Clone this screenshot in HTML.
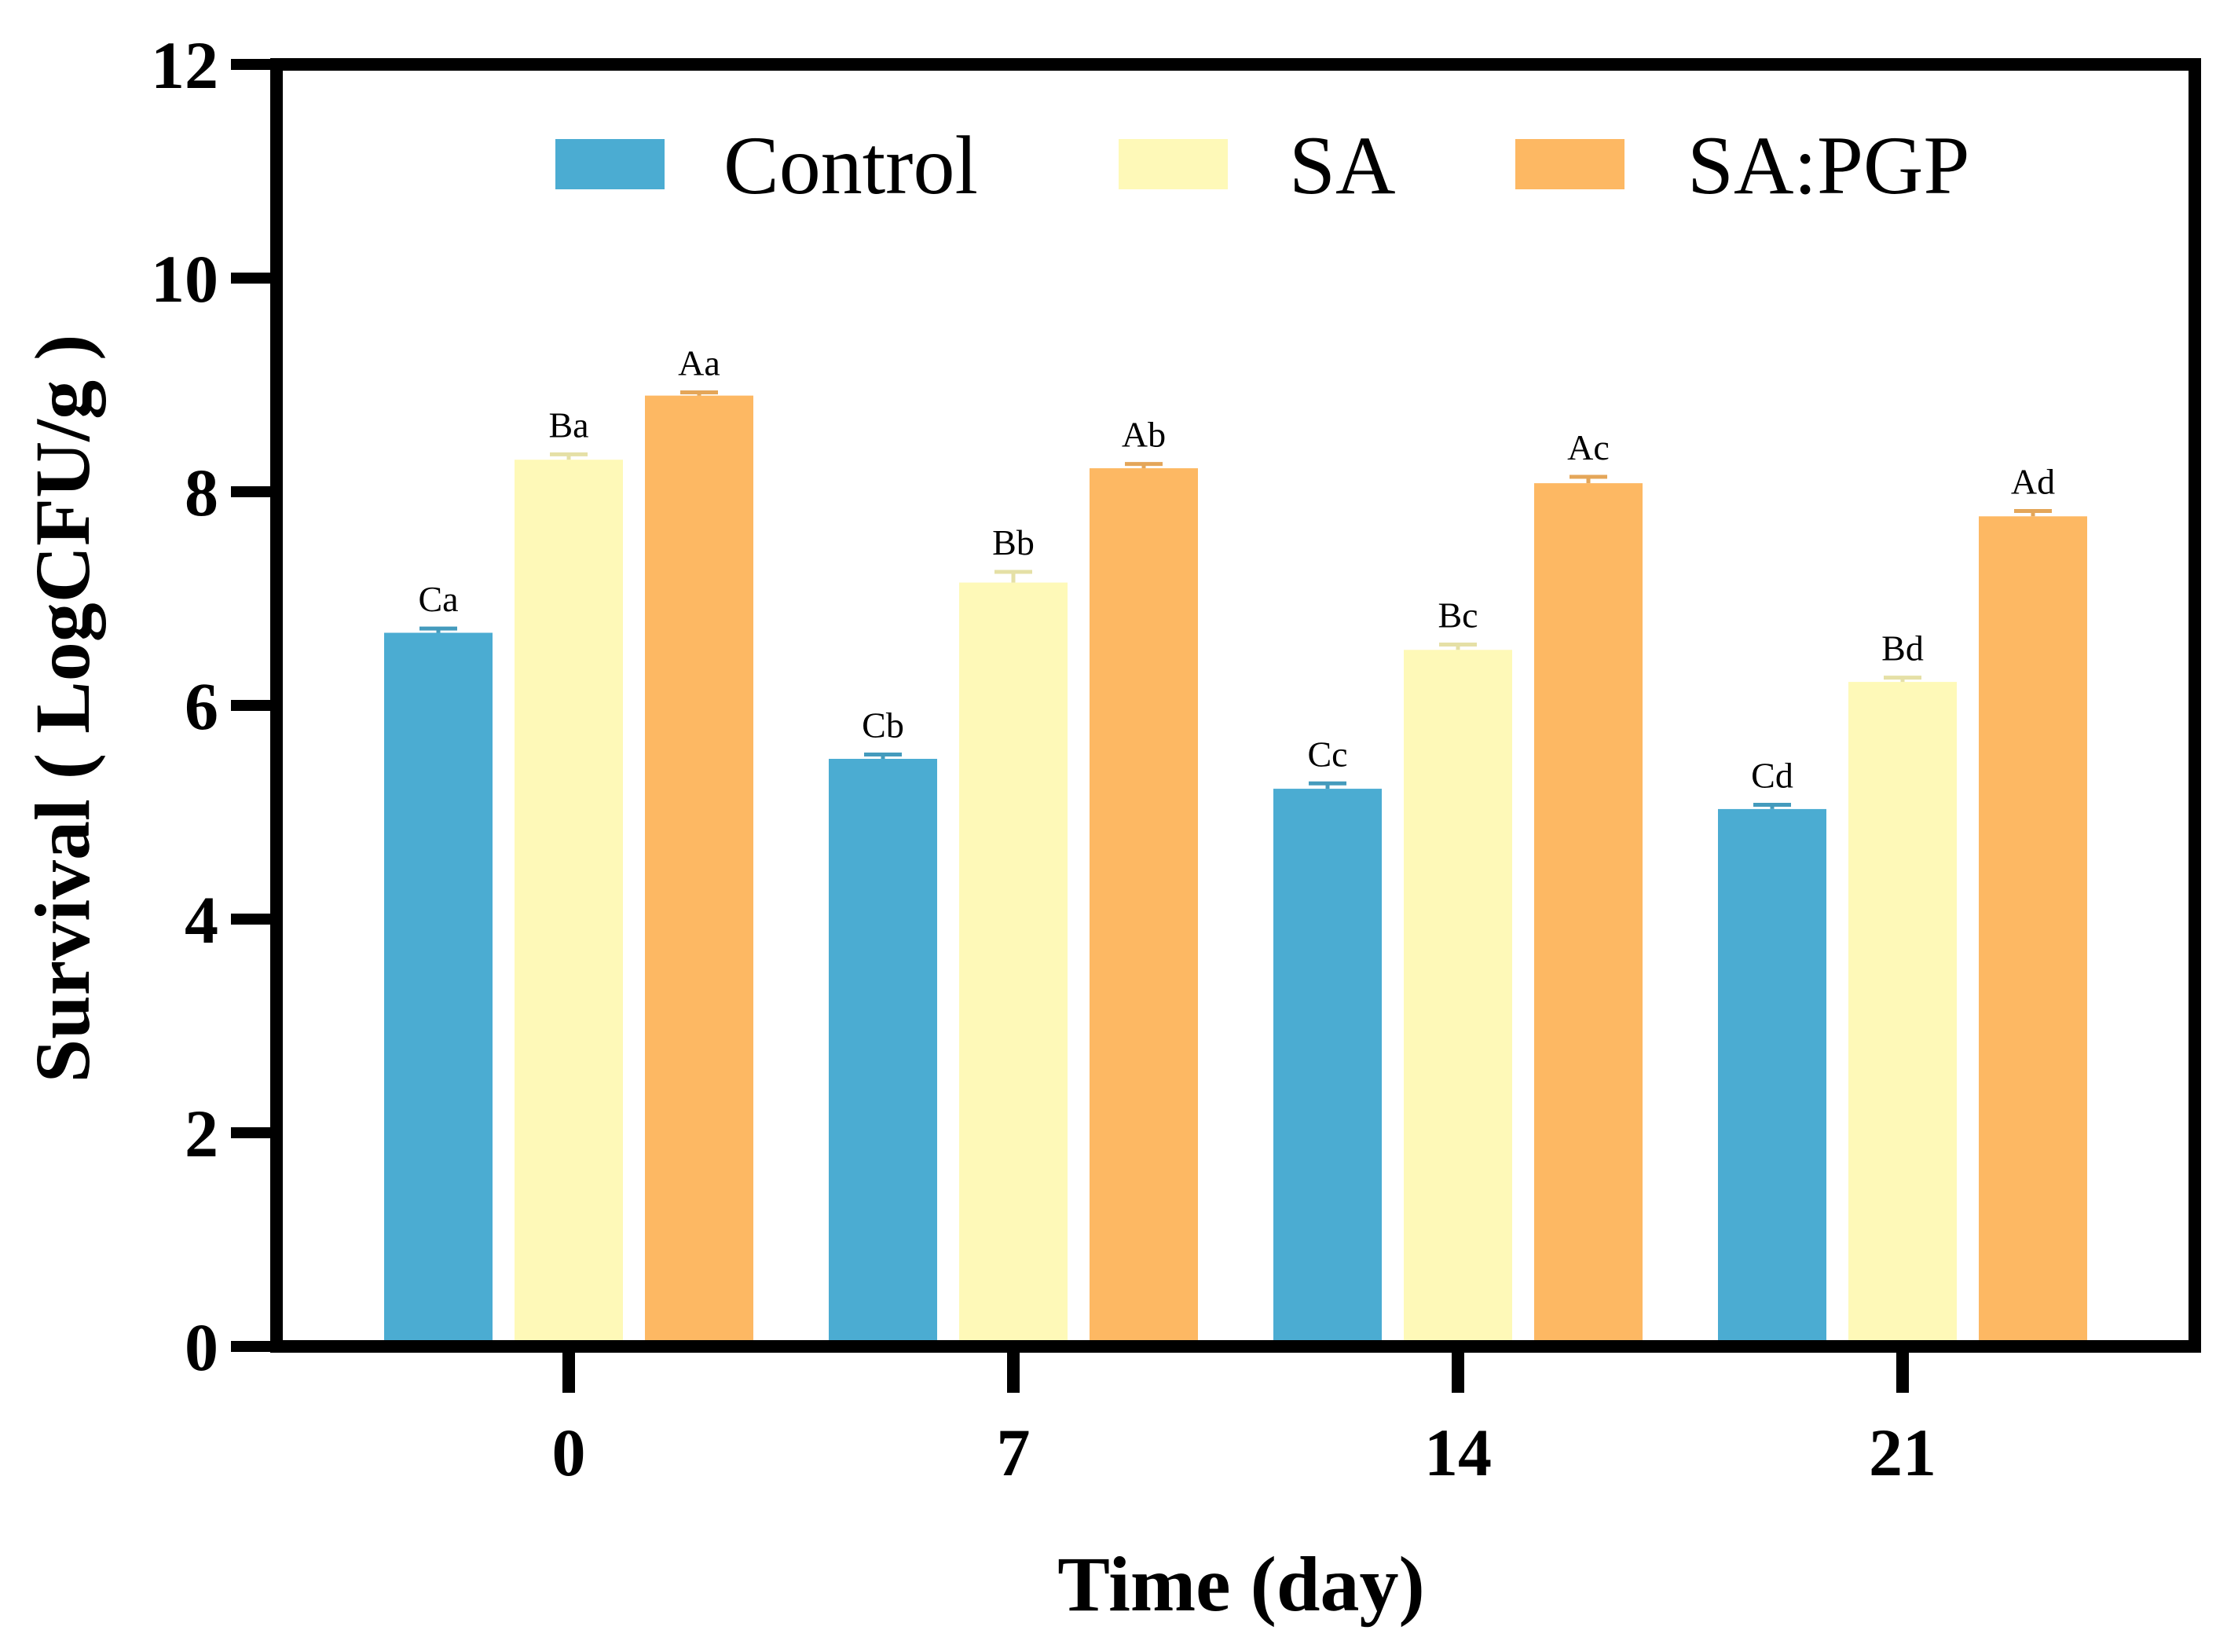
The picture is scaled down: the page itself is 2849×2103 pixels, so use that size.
<!DOCTYPE html>
<html><head><meta charset="utf-8"><style>
html,body{margin:0;padding:0;background:#fff;}
svg{display:block;font-family:"Liberation Serif",serif;}
</style></head><body>
<svg id="chart" width="2849" height="2103" viewBox="0 0 2849 2103"></svg>
<script>
const categories = ["0","7","14","21"];
const seriesNames = ["Control","SA","SA:PGP"];
const controlValues = [6.68,5.50,5.22,5.03];
const saValues = [8.30,7.15,6.52,6.22];
const pgpValues = [8.90,8.22,8.08,7.77];
const controlErr = [0.04,0.04,0.05,0.04];
const saErr = [0.05,0.10,0.05,0.04];
const pgpErr = [0.03,0.04,0.06,0.05];
const controlLetters = ["Ca","Cb","Cc","Cd"];
const saLetters = ["Ba","Bb","Bc","Bd"];
const pgpLetters = ["Aa","Ab","Ac","Ad"];
const yTicks = [0,2,4,6,8,10,12];

const NS="http://www.w3.org/2000/svg";
const svg=document.getElementById('chart');
const colors=["#4BACD2","#FEF9B8","#FDB863"];
const yBase=1714, yTop=82, yMax=12;
const y=v=>yBase-(yBase-yTop)*v/yMax;
const x0=724, groupStep=566;
const gx=i=>x0+i*groupStep;
const offsets=[-166,0,166], bw=138;
function mk(tag,attrs){const e=document.createElementNS(NS,tag);for(const k in attrs)e.setAttribute(k,attrs[k]);svg.appendChild(e);return e;}

const vals=[controlValues,saValues,pgpValues], errs=[controlErr,saErr,pgpErr], lets=[controlLetters,saLetters,pgpLetters];
for(let s=0;s<3;s++){
  for(let i=0;i<categories.length;i++){
    const cx=gx(i)+offsets[s], v=vals[s][i], e=errs[s][i];
    const r=mk('rect',{x:cx-bw/2,y:y(v),width:bw,height:yBase-y(v),fill:colors[s]});
    
    
    const eb=mk('path',{d:`M${cx} ${y(v)} V${y(v+e)} M${cx-24} ${y(v+e)} H${cx+24}`,stroke:colors[s],'stroke-width':5,fill:'none',filter:'brightness(0.9)'});
    
    
    const t=mk('text',{x:cx,y:y(v+e)-22,'text-anchor':'middle','font-size':46});
    t.textContent=lets[s][i];
    
    
  }
}
const fr=mk('rect',{x:352,y:82,width:2442,height:1632,fill:'none',stroke:'#000','stroke-width':16});


yTicks.forEach(v=>{
  const l=mk('line',{x1:294,x2:352,y1:y(v),y2:y(v),stroke:'#000','stroke-width':14});
  
  
  const t=mk('text',{x:278,y:y(v)+30,'text-anchor':'end','font-size':86,'font-weight':'bold'});
  t.textContent=v;
  
  
});
categories.forEach((c,i)=>{
  const l=mk('line',{x1:gx(i),x2:gx(i),y1:1714,y2:1773,stroke:'#000','stroke-width':16});
  
  
  const t=mk('text',{x:gx(i),y:1878,'text-anchor':'middle','font-size':86,'font-weight':'bold'});
  t.textContent=c;
  
  
});
const xt=mk('text',{x:1580,y:2050,'text-anchor':'middle','font-size':100,'font-weight':'bold'});
xt.textContent="Time (day)";


const yt=mk('text',{x:0,y:0,'text-anchor':'middle','font-size':100,'font-weight':'bold',transform:'translate(113,902) rotate(-90)'});
yt.textContent="Survival ( LogCFU/g )";


const lx=[707,1424,1929], tx=[921,1641,2148];
seriesNames.forEach((n,s)=>{
  const r=mk('rect',{x:lx[s],y:177,width:139,height:64,fill:colors[s]});
  
  
  const t=mk('text',{x:tx[s],y:246,'font-size':106});
  t.textContent=n;
  
  
});
</script>
</body></html>
